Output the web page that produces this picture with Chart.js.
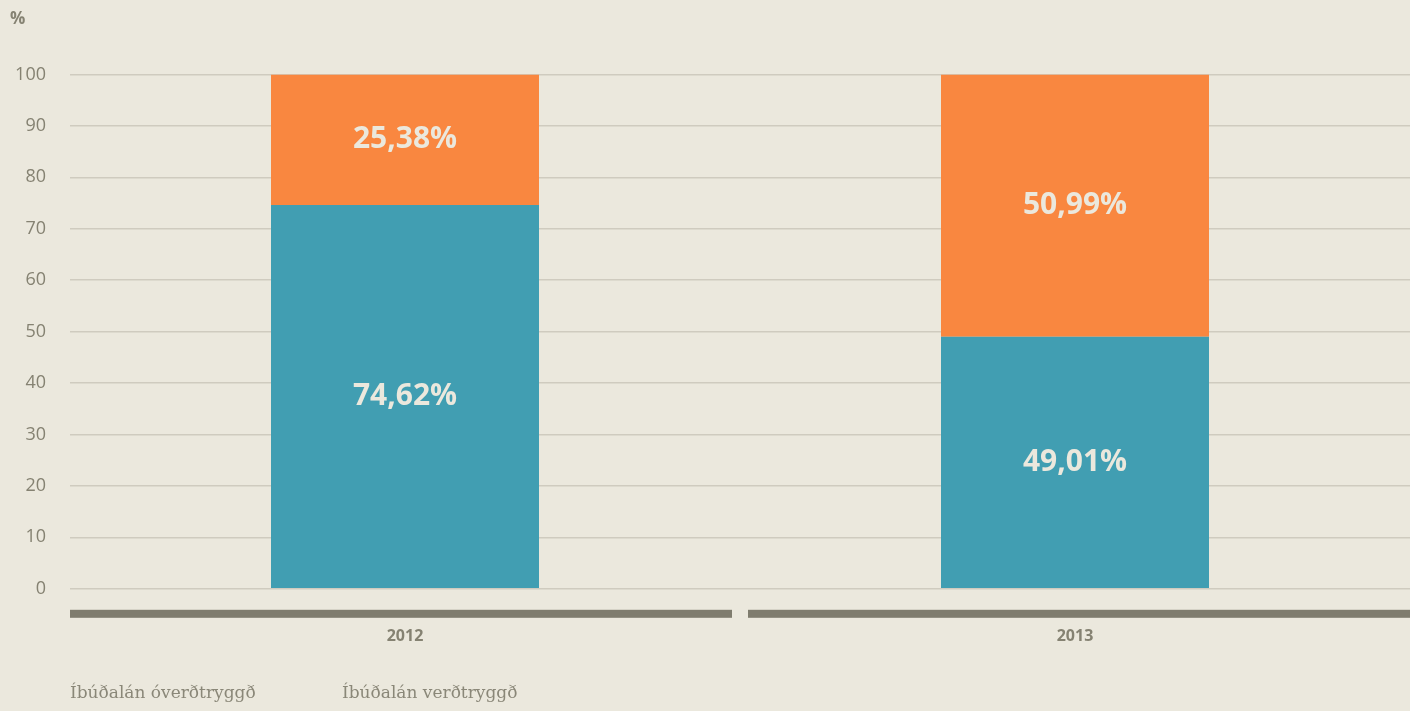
<!DOCTYPE html>
<html>
<head>
<meta charset="utf-8">
<script src="https://cdn.jsdelivr.net/npm/chart.js@4"></script>
<style>
  html, body { margin: 0; padding: 0; background: #ebe8dd; }
  #wrap { position: relative; width: 1410px; height: 711px; }
  #legend { position: absolute; left: 70px; top: 682px; font-family: 'DejaVu Serif', serif; font-size: 17px; color: #8a8778; }
  #legend span { display: inline-block; width: 272px; }
</style>
</head>
<body>
<div id="wrap">
  <canvas id="chart" width="1410" height="711"></canvas>
  <div id="legend"></div>
</div>
<script>
// Data
const years = ['2012', '2013'];
const indexedShare = [74.62, 49.01];
const nonIndexedShare = [25.38, 50.99];
const yTicks = [0, 10, 20, 30, 40, 50, 60, 70, 80, 90, 100];

const textGray = '#858272';

// thick gray strip under each category
const axisStrip = {
  id: 'axisStrip',
  afterDraw(chart) {
    const ctx = chart.ctx;
    const area = chart.chartArea;
    const n = chart.data.labels.length;
    const step = (area.right - area.left) / n;
    ctx.save();
    ctx.fillStyle = '#7f7c6e';
    for (let i = 0; i < n; i++) {
      let l = area.left + i * step;
      let r = l + step;
      if (i > 0) l += 8;
      if (i < n - 1) r -= 8;
      ctx.fillRect(l, area.bottom + 21, r - l, 8);
    }
    ctx.restore();
  }
};

// value labels in the middle of each segment
const barLabels = {
  id: 'barLabels',
  afterDatasetsDraw(chart) {
    const ctx = chart.ctx;
    ctx.save();
    ctx.font = 'bold 30px "Open Sans", sans-serif';
    ctx.fillStyle = '#ebe8dd';
    ctx.textAlign = 'center';
    ctx.textBaseline = 'middle';
    chart.data.datasets.forEach((ds, di) => {
      chart.getDatasetMeta(di).data.forEach((bar, i) => {
        const txt = ds.data[i].toFixed(2).replace('.', ',') + '%';
        ctx.fillText(txt, bar.x, (bar.y + bar.base) / 2);
      });
    });
    ctx.restore();
  }
};

const chart = new Chart(document.getElementById('chart'), {
  type: 'bar',
  data: {
    labels: years,
    datasets: [
      {
        label: 'Íbúðalán verðtryggð',
        data: indexedShare,
        backgroundColor: '#419eb2',
        barPercentage: 0.4,
        categoryPercentage: 1,
      },
      {
        label: 'Íbúðalán óverðtryggð',
        data: nonIndexedShare,
        backgroundColor: '#f98740',
        barPercentage: 0.4,
        categoryPercentage: 1,
      },
    ],
  },
  options: {
    responsive: false,
    animation: false,
    layout: { padding: { left: 10, right: 0, top: 0, bottom: 35 } },
    plugins: {
      legend: { display: false },
      tooltip: { enabled: false },
      title: {
        display: true,
        text: '%',
        align: 'start',
        color: textGray,
        font: { family: '"Open Sans", sans-serif', size: 17, weight: 'bold' },
        padding: { top: 9, bottom: 45 },
      },
    },
    scales: {
      x: {
        stacked: true,
        grid: { display: false },
        border: { display: false },
        ticks: {
          color: textGray,
          padding: 30,
          font: { family: '"Open Sans", sans-serif', size: 16, weight: 'bold' },
        },
      },
      y: {
        stacked: true,
        min: 0,
        max: 100,
        afterBuildTicks(axis) { axis.ticks = yTicks.map(v => ({ value: v })); },
        afterFit(axis) { axis.width = 60; },
        grid: { color: '#cfcbbf', lineWidth: 1.5, drawTicks: false },
        border: { display: false },
        ticks: {
          color: textGray,
          padding: 24,
          font: { family: '"Open Sans", sans-serif', size: 18 },
        },
      },
    },
  },
  plugins: [axisStrip, barLabels],
});

// legend as plain text, non-indexed first
const legend = document.getElementById('legend');
chart.data.datasets.slice().reverse().forEach(ds => {
  const s = document.createElement('span');
  s.textContent = ds.label;
  legend.appendChild(s);
});
</script>
</body>
</html>
